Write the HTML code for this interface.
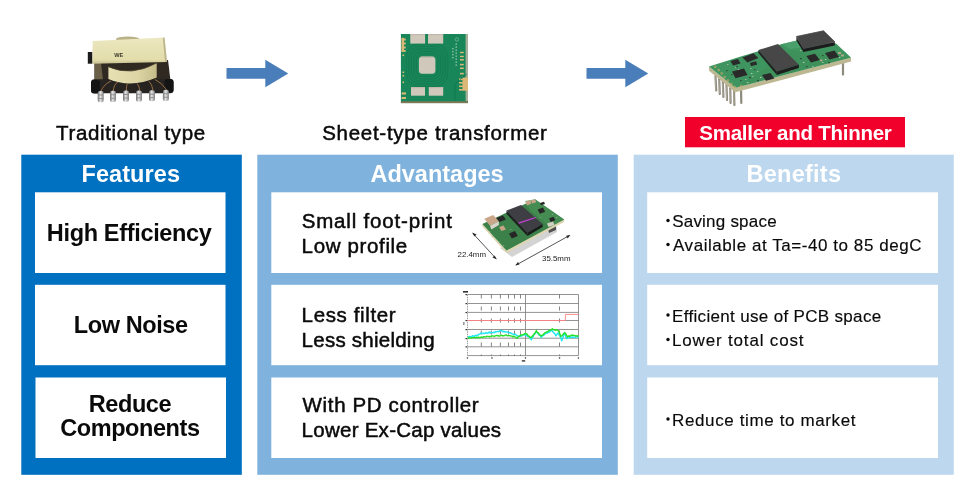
<!DOCTYPE html>
<html><head><meta charset="utf-8">
<style>
html,body{margin:0;padding:0;background:#fff;width:970px;height:489px;overflow:hidden}
svg{display:block;will-change:transform}
text{font-family:"Liberation Sans",sans-serif}
</style></head><body>
<svg width="970" height="489" viewBox="0 0 970 489">
<rect x="0" y="0" width="970" height="489" fill="#fff"/>
<!-- panels -->
<rect x="21.3" y="154.7" width="220.5" height="320.1" fill="#0070c0"/>
<rect x="257.3" y="154.7" width="360.5" height="320.1" fill="#7fb3dd"/>
<rect x="633.7" y="154.7" width="320.1" height="320.1" fill="#bdd7ee"/>
<!-- inner boxes -->
<g fill="#fff">
<rect x="35" y="192.3" width="190.5" height="80.7"/>
<rect x="35" y="284.8" width="190.5" height="80.4"/>
<rect x="35.5" y="377.5" width="190.5" height="80.5"/>
<rect x="271.3" y="192.3" width="330.7" height="80.7"/>
<rect x="271.3" y="284.8" width="330.7" height="80.4"/>
<rect x="271.3" y="377.5" width="330.7" height="80.5"/>
<rect x="647.2" y="192.3" width="290.8" height="80.7"/>
<rect x="647.2" y="284.8" width="290.8" height="80.4"/>
<rect x="647.2" y="377.5" width="290.8" height="80.5"/>
</g>
<!-- red label -->
<rect x="685" y="117" width="220" height="30.3" fill="#f2002c"/>
<!-- arrows -->
<polygon fill="#4a7ebb" points="226.5,68 265.3,68 265.3,59.7 288.3,73.4 265.3,87.2 265.3,78.7 226.5,78.7"/>
<polygon fill="#4a7ebb" points="586.5,68 625.3,68 625.3,59.7 648.3,73.4 625.3,87.2 625.3,78.7 586.5,78.7"/>


<!-- ===== traditional transformer ===== -->
<g id="img1">
<defs>
<linearGradient id="beigeTop" x1="0" y1="0" x2="0" y2="1">
<stop offset="0" stop-color="#ebe7bf"/><stop offset="0.85" stop-color="#e3ddab"/><stop offset="1" stop-color="#c6bf90"/></linearGradient>
<linearGradient id="pin" x1="0" y1="0" x2="1" y2="0">
<stop offset="0" stop-color="#6e6e6e"/><stop offset="0.45" stop-color="#e6e6e6"/><stop offset="1" stop-color="#7e7e7e"/></linearGradient>
<linearGradient id="bob" x1="0" y1="0" x2="1" y2="0">
<stop offset="0" stop-color="#e6e0b4"/><stop offset="0.6" stop-color="#ddd5a4"/><stop offset="1" stop-color="#c5bc8a"/></linearGradient>
</defs>
<ellipse cx="127.7" cy="39.2" rx="11.8" ry="2.6" fill="#b9b187"/>
<polygon points="94.5,62 168,60 170.5,80.5 94.5,81.5" fill="#2f2921"/>
<polygon points="94.5,63 101,63 103,80 94.5,80.5" fill="#6a6048"/>
<polygon points="92.7,40.9 164.5,37.6 167,62 92.2,63.7" fill="url(#beigeTop)"/>
<polygon points="164.5,37.6 167,62 165,62 162.8,37.8" fill="#bdb58c"/>
<rect x="87.8" y="52" width="4.4" height="11.7" fill="#1b1b1b"/>
<rect x="91.2" y="79.3" width="82.3" height="14" rx="3" fill="#262321"/>
<g fill="#141414"><rect x="91" y="80" width="9" height="13.5" rx="3"/><rect x="164.5" y="79" width="9" height="13.5" rx="3"/></g>
<path d="M108.4,66.8 Q131,77 156.7,63 L156.7,77.5 Q131,88.5 108.4,79 Z" fill="url(#bob)"/>
<path d="M108.4,66.8 Q131,77 156.7,63" fill="none" stroke="#4a4030" stroke-width="0.8"/>
<g stroke="#c78b52" stroke-width="0.7" fill="none">
<path d="M100.4,92 Q104,84 111,81"/><path d="M113.2,91 Q114,84 118,82"/><path d="M126.5,91 Q126,85 128,83.5"/>
<path d="M139.8,90.5 Q139,85 137,83.5"/><path d="M153,90 Q152,84 149,81.5"/><path d="M166.4,89.5 Q162,83 155,79.5"/>
</g>
<g fill="url(#pin)"><rect x="97.7" y="91.0" width="6" height="11.2" rx="2.2"/><rect x="110.0" y="90.8" width="6" height="11.2" rx="2.2"/><rect x="123.0" y="90.6" width="6" height="11.2" rx="2.2"/><rect x="136.0" y="90.4" width="6" height="11.2" rx="2.2"/><rect x="149.0" y="90.2" width="6" height="11.1" rx="2.2"/><rect x="162.9" y="89.8" width="6" height="11.2" rx="2.2"/></g>
<g fill="#8a8a8a"><rect x="98.2" y="94.5" width="5" height="0.9"/><rect x="98.2" y="98.0" width="5" height="0.9"/><rect x="110.5" y="94.3" width="5" height="0.9"/><rect x="110.5" y="97.8" width="5" height="0.9"/><rect x="123.5" y="94.1" width="5" height="0.9"/><rect x="123.5" y="97.6" width="5" height="0.9"/><rect x="136.5" y="93.9" width="5" height="0.9"/><rect x="136.5" y="97.4" width="5" height="0.9"/><rect x="149.5" y="93.7" width="5" height="0.9"/><rect x="149.5" y="97.2" width="5" height="0.9"/><rect x="163.4" y="93.3" width="5" height="0.9"/><rect x="163.4" y="96.8" width="5" height="0.9"/></g>
<text x="114.2" y="57" font-size="5.8" font-weight="bold" textLength="9" lengthAdjust="spacingAndGlyphs" fill="#3a3828">WE</text>
</g>

<!-- ===== sheet transformer ===== -->
<g id="img2">
<rect x="400.9" y="34" width="67.1" height="69.1" fill="#188659"/>
<rect x="465.6" y="34" width="2.4" height="67" fill="#bdb6a6" opacity="0.85"/>
<rect x="400.9" y="101.3" width="67.1" height="1.8" fill="#857657"/>
<g fill="none" stroke="#10704a" stroke-width="0.55" opacity="0.9">
<rect x="416.4" y="53.9" width="21.5" height="22.4" rx="5"/>
<rect x="413.9" y="51.4" width="26.5" height="27.4" rx="7"/>
<rect x="411.4" y="48.9" width="31.5" height="32.4" rx="9"/>
<rect x="408.9" y="46.4" width="36.5" height="37.4" rx="11"/>
<rect x="406.4" y="43.9" width="41.5" height="42.4" rx="13"/>
</g>
<g fill="#d0c8ba">
<rect x="410.3" y="34" width="14.8" height="9.6"/><rect x="428" y="34" width="15.2" height="9.6"/>
<rect x="411" y="87" width="14" height="8.7"/><rect x="428.8" y="87" width="14.4" height="8.7"/>
<rect x="418.9" y="56.4" width="16.5" height="17.4" rx="3.5"/>
</g>
<g fill="#b9ada0" opacity="0.6">
<rect x="410.3" y="34" width="14.8" height="1.2"/><rect x="428" y="34" width="15.2" height="1.2"/>
<rect x="411" y="87" width="14" height="1.2"/><rect x="428.8" y="87" width="14.4" height="1.2"/>
<rect x="420.5" y="56.4" width="13" height="1.5"/>
</g>
<g fill="#dcb878">
<rect x="401.6" y="37.8" width="2.4" height="14.1"/>
<rect x="401.6" y="38.5" width="4.1" height="2"/><rect x="401.6" y="42.5" width="4.1" height="2"/><rect x="401.6" y="46.5" width="4.1" height="2"/><rect x="401.6" y="50" width="4.1" height="1.9"/>
<rect x="402.5" y="54.5" width="1.6" height="1.6"/><rect x="402.5" y="71.5" width="1.6" height="1.6"/><rect x="402.5" y="75" width="1.6" height="1.6"/><rect x="402.5" y="81.5" width="1.6" height="1.6"/>
<rect x="401.6" y="92.4" width="4.4" height="2.1"/><rect x="401.6" y="97" width="4.4" height="2"/>
<rect x="460" y="51.8" width="3.8" height="1.4"/><rect x="460" y="55.8" width="3.8" height="1.4"/><rect x="460" y="59" width="3.8" height="1.6"/><rect x="460" y="63.8" width="3.8" height="1.6"/><rect x="460" y="67.5" width="3.8" height="1.6"/><rect x="460" y="72.8" width="3.8" height="1.6"/>
<rect x="462.5" y="77.5" width="5.5" height="13.2"/>
<rect x="459" y="78.5" width="4" height="1.6"/><rect x="459" y="82" width="4" height="1.6"/><rect x="459" y="85.5" width="4" height="1.6"/><rect x="459" y="89" width="4" height="1.6"/>
</g>
<path d="M467,74 L455,84 L455,101" fill="none" stroke="#10704a" stroke-width="0.6"/>
<g fill="#b8d8c8" opacity="0.8">
<circle cx="457" cy="39.5" r="1.7" fill="none" stroke="#c8e0d4" stroke-width="0.5"/>
<rect x="455.5" y="43.5" width="1.4" height="1.3"/><rect x="455.5" y="46.5" width="1.4" height="1.3"/><rect x="455.5" y="49.5" width="1.4" height="1.3"/><rect x="455.5" y="52.5" width="1.4" height="1.3"/><rect x="455.5" y="55.5" width="1.4" height="1.3"/><rect x="455.5" y="58.5" width="1.4" height="1.3"/><rect x="455.5" y="61.5" width="1.4" height="1.3"/><rect x="455.5" y="64.5" width="1.4" height="1.3"/>
<rect x="452.2" y="48" width="1.4" height="1.3"/><rect x="452.2" y="51" width="1.4" height="1.3"/><rect x="452.2" y="54" width="1.4" height="1.3"/><rect x="452.2" y="57" width="1.4" height="1.3"/>
</g>
</g>

<!-- ===== module (top right) ===== -->
<g id="img3">
<g stroke="#8e8b7e" stroke-width="2.2" stroke-linecap="round">
<line x1="715.5" y1="76" x2="716.2" y2="90.5"/><line x1="719.2" y1="79" x2="719.8" y2="94"/><line x1="722.8" y1="82" x2="723.4" y2="97"/>
<line x1="726.5" y1="85" x2="727" y2="100"/><line x1="730.2" y1="88" x2="730.6" y2="103"/><line x1="734" y1="90" x2="734.4" y2="105"/>
<line x1="741" y1="88" x2="741.3" y2="103"/>
<line x1="843" y1="62" x2="843" y2="74.6"/>
</g>
<g stroke="#b9b6a8" stroke-width="0.7">
<line x1="715.2" y1="77" x2="715.8" y2="90"/><line x1="718.9" y1="80" x2="719.4" y2="93.5"/><line x1="722.5" y1="83" x2="723" y2="96.5"/>
<line x1="726.2" y1="86" x2="726.6" y2="99.5"/><line x1="729.9" y1="89" x2="730.2" y2="102.5"/><line x1="733.7" y1="91" x2="734" y2="104.5"/>
</g>
<polygon points="709,66.4 735.2,87.7 851,57.4 851,61.5 735.2,92.3 709,70.8" fill="#bdb892"/>
<polygon points="709,66.4 740,56.8 782,44 797,40.5 836,43.5 851,57.4 735.2,87.7" fill="#3f955f"/>
<polygon points="790,50 851,57.4 735.2,87.7 760,72" fill="#3d9058" opacity="0.6"/>
<g fill="none" stroke="#c9a868" stroke-width="0.8"><circle cx="715.3" cy="66.8" r="0.9"/><circle cx="718.7" cy="70.1" r="0.9"/><circle cx="721.7" cy="73.4" r="0.9"/><circle cx="724.6" cy="77.1" r="0.9"/><circle cx="728.0" cy="80.5" r="0.9"/><circle cx="731.4" cy="83.9" r="0.9"/><circle cx="734.6" cy="87.0" r="0.9"/><circle cx="741.3" cy="85.9" r="0.9"/></g>
<g fill="#a9b7a0" opacity="0.9">
<rect x="727" y="64" width="1.5" height="1"/><rect x="735" y="67" width="1.5" height="1"/><rect x="740" y="72" width="1.5" height="1"/><rect x="750" y="68" width="1.5" height="1"/>
<rect x="752" y="76" width="1.5" height="1"/><rect x="757" y="71" width="1.5" height="1"/><rect x="745" y="79" width="1.5" height="1"/><rect x="760" y="81" width="1.5" height="1"/>
<rect x="790" y="70" width="1.5" height="1"/><rect x="800" y="50" width="1.5" height="1"/><rect x="822" y="62" width="1.5" height="1"/><rect x="812" y="66" width="1.5" height="1"/>
</g>
<g fill="#2b3a30" opacity="0.75">
<rect x="736" y="66" width="2" height="1.3"/><rect x="744" y="72" width="1.6" height="1.2"/><rect x="749" y="77" width="2" height="1.3"/><rect x="754" y="69" width="1.6" height="1.2"/>
<rect x="740" y="80" width="1.6" height="1.2"/><rect x="757" y="80" width="2" height="1.3"/><rect x="726" y="70" width="1.6" height="1.2"/><rect x="731" y="74" width="1.6" height="1.2"/>
<rect x="800" y="58" width="2" height="1.3"/><rect x="806" y="66" width="1.6" height="1.2"/><rect x="822" y="55" width="1.6" height="1.2"/><rect x="828" y="62" width="2" height="1.3"/>
</g>
<g fill="#d8d8cc" opacity="0.8">
<rect x="738" y="69" width="1.4" height="1"/><rect x="751" y="73" width="1.4" height="1"/><rect x="760" y="77" width="1.4" height="1"/><rect x="747" y="82" width="1.4" height="1"/>
<rect x="803" y="62" width="1.4" height="1"/><rect x="825" y="59" width="1.4" height="1"/><rect x="839" y="57" width="1.4" height="1"/>
</g>
<polygon points="782,44 797,40.5 836,43.5 830,45 790,49" fill="#52a672" opacity="0.6"/>
<!-- inductor -->
<polygon points="758.4,50.1 778,44 798.9,64.8 776.8,71.6" fill="#474747"/>
<polygon points="758.4,50.1 776.8,71.6 776.8,75 758.4,53" fill="#222"/>
<polygon points="776.8,71.6 798.9,64.8 798.9,68 776.8,75" fill="#1e1e1e"/>
<!-- big block -->
<polygon points="796.4,40.5 803.5,52 834.8,45.5 834.8,42 803.5,48.5 796.4,37" fill="#1c1c1c"/>
<polygon points="796.4,36.5 823.5,30.8 834.8,41.8 803.5,48.5" fill="#474747" stroke="#474747" stroke-width="0.8" stroke-linejoin="round"/>
<!-- small ICs -->
<g fill="#2a2a2a">
<polygon points="742.5,57.4 753.5,53.2 758.4,58.1 747.4,62.4"/>
<polygon points="749.8,63 756,61.3 757.2,64.5 751,66.2"/>
<polygon points="730.4,61 738,59 740.5,63.5 733,65.5"/>
<polygon points="732,71.5 744,68.5 747.5,75 735.5,78.2"/>
<polygon points="762,75 770.5,73 774.4,78.5 766,80.8"/>
<polygon points="806.3,56 815,53.8 819.8,60 811,62.4"/>
<polygon points="825,53 834.5,50.5 839,57 829.5,59.5"/>
</g>
<g fill="#b3a58a"><rect x="838" y="52" width="3" height="2"/><rect x="841" y="54.5" width="3" height="2"/><rect x="820" y="59.5" width="2.5" height="1.8"/></g>
</g>

<!-- ===== P2 module ===== -->
<g id="img4">
<polygon points="500,248 556,221 557,232 512,257" fill="#c8c8c8" opacity="0.8"/>
<polygon points="548,229 556,226 556,230 549,233" fill="#505050"/>
<polygon points="482.4,223.9 506.5,250.5 564.2,219.4 564.2,222 506.5,253 482.4,226.4" fill="#ddd6b0"/>
<polygon points="482.4,223.9 535,199.2 564.2,219.4 506.5,250.5" fill="#3b8149"/>
<polygon points="525,201 535,199.2 564.2,219.4 550,227 530,210" fill="#4a9258" opacity="0.7"/>
<g fill="#8fae8a" opacity="0.8">
<rect x="492" y="236" width="1.2" height="1"/><rect x="498" y="241" width="1.2" height="1"/><rect x="503" y="245" width="1.2" height="1"/><rect x="489" y="231" width="1.2" height="1"/>
<rect x="510" y="229" width="1.2" height="1"/><rect x="540" y="217" width="1.2" height="1"/><rect x="552" y="214" width="1.2" height="1"/><rect x="556" y="217" width="1.2" height="1"/>
</g>
<!-- inductor -->
<polygon points="506.5,210.6 521,204.9 542.6,223.9 527.4,232.8" fill="#3e3e44"/>
<polygon points="506.5,210.6 527.4,232.8 527.4,236 506.5,213.8" fill="#202020"/>
<polygon points="527.4,232.8 542.6,223.9 542.6,227 527.4,236" fill="#1a1a1a"/>
<line x1="518.6" y1="223.2" x2="535.7" y2="217.5" stroke="#c840dc" stroke-width="1.3"/>
<!-- left cap -->
<polygon points="484.3,218.8 493.2,215 498.9,221.3 490,225.8" fill="#c9a68a"/>
<polygon points="490,225.8 498.9,221.3 498.9,225 491.3,229.5" fill="#d8d4cc"/>
<g fill="#262626">
<polygon points="496.4,218 503,215.5 506,219.5 499.4,222"/>
<polygon points="509,233.5 515,231 517.8,236 511.8,238.5"/>
<polygon points="537.6,209.5 543,207.5 545.2,211.8 539.8,213.8"/>
<polygon points="549,218.5 553.5,216.8 555.3,220.3 550.8,222"/>
<polygon points="540,203 544,201.8 545,204 541,205.2"/>
</g>
<g fill="#c7a487">
<polygon points="499,227 503.5,225.5 505.9,229.5 501.4,231"/>
<polygon points="525.5,202 530,200 531.5,203.5 527,205.5"/>
<polygon points="531,200.5 535,199.2 536.3,202.3 532.3,203.6"/>
</g>
<polygon points="547,223.5 553,221.5 554.5,225 548.5,227" fill="#d4cfc2"/>
<g stroke="#2a2a2a" stroke-width="0.8" fill="#2a2a2a">
<line x1="473" y1="233.5" x2="496" y2="258.5"/>
<polygon points="472.2,232.6 476.6,234.4 474.4,236.4" stroke="none"/>
<polygon points="496.8,259.4 492.5,257.5 494.6,255.5" stroke="none"/>
<line x1="516.2" y1="265" x2="569.4" y2="235.5"/>
<polygon points="515.2,265.5 518,262 519.5,264.6" stroke="none"/>
<polygon points="570.4,234.9 567.6,238.4 566.1,235.8" stroke="none"/>
</g>
<text x="457.5" y="256.5" font-size="7.6" textLength="28.5" lengthAdjust="spacingAndGlyphs" fill="#222">22.4mm</text>
<text x="542" y="261" font-size="7.6" textLength="28.5" lengthAdjust="spacingAndGlyphs" fill="#222">35.5mm</text>
</g>

<!-- ===== chart ===== -->
<g id="img5">
<g stroke="#777" stroke-width="0.8" fill="none">
<line x1="467.5" y1="294.5" x2="578.5" y2="294.5"/><line x1="467.5" y1="303.5" x2="578.5" y2="303.5"/><line x1="467.5" y1="312.4" x2="578.5" y2="312.4"/><line x1="467.5" y1="320.5" x2="578.5" y2="320.5"/><line x1="467.5" y1="329.5" x2="578.5" y2="329.5"/><line x1="467.5" y1="338.2" x2="578.5" y2="338.2"/><line x1="467.5" y1="346.8" x2="578.5" y2="346.8"/><line x1="467.5" y1="355.6" x2="578.5" y2="355.6"/>
<line x1="525.5" y1="294.5" x2="525.5" y2="355.6"/><line x1="578.5" y1="294.5" x2="578.5" y2="355.6"/>
<line x1="467.5" y1="294.5" x2="467.5" y2="355.6" stroke="#888" stroke-dasharray="1.5 0.8"/>
</g>
<g stroke="#666" stroke-width="0.8" stroke-dasharray="4 8">
<line x1="481.3" y1="294.5" x2="481.3" y2="356"/><line x1="491.4" y1="294.5" x2="491.4" y2="356"/><line x1="500.4" y1="294.5" x2="500.4" y2="356"/><line x1="508.5" y1="294.5" x2="508.5" y2="356"/><line x1="514.5" y1="294.5" x2="514.5" y2="356"/><line x1="520.5" y1="294.5" x2="520.5" y2="356"/><line x1="559.5" y1="294.5" x2="559.5" y2="356"/>
</g>
<polyline points="467.5,320.5 565.4,320.5 565.4,314.4 578.5,314.4" fill="none" stroke="#ff8080" stroke-width="0.9"/>
<polyline fill="none" stroke="#20e8f0" stroke-width="1.5" stroke-linejoin="round" points="467.8,336.6 468.7,336.9 469.6,336.6 470.5,336.8 471.3,336.7 472.2,336.0 473.1,335.8 474.0,336.7 474.9,335.7 475.7,335.3 476.6,335.9 477.4,334.9 478.3,335.0 479.1,334.2 480.0,334.1 480.8,333.1 481.7,333.4 482.6,333.6 483.5,333.2 484.4,333.4 485.2,333.3 486.1,332.5 487.0,333.3 487.9,333.0 488.7,332.5 489.6,332.1 490.4,333.0 491.3,332.4 492.1,332.6 493.0,332.7 493.9,332.3 494.8,332.4 495.6,331.6 496.5,331.9 497.4,331.4 498.3,331.8 499.1,331.6 500.0,330.5 500.9,330.4 501.8,330.7 502.6,331.8 503.4,331.3 504.3,331.8 505.1,331.6 506.0,332.0 506.9,332.0 507.9,332.1 508.8,332.6 509.8,332.7 510.7,333.3 511.5,333.3 512.3,333.9 513.1,334.2 514.0,334.6 514.8,334.6 515.6,334.3 516.4,335.4 517.2,335.9 518.1,336.1 519.1,335.9 520.0,336.4 520.8,335.5 521.6,336.0 522.4,335.5 523.3,334.9 524.1,334.4 524.9,335.1 525.7,335.0 526.5,334.6 527.3,336.2 528.1,336.4 529.0,336.8 529.8,337.7 530.6,338.9 531.4,339.7 532.2,337.4 533.1,336.7 533.9,334.7 534.7,334.2 535.6,332.3 536.4,331.7 537.2,332.8 538.0,333.2 538.8,334.8 539.7,335.0 540.5,335.8 541.3,337.4 542.1,336.1 542.9,335.6 543.8,335.1 544.6,334.7 545.4,333.5 546.2,332.7 547.0,333.2 547.8,332.1 548.6,332.5 549.5,332.0 550.3,331.0 551.1,330.7 551.9,330.3 552.7,331.5 553.5,332.4 554.4,333.4 555.2,334.4 556.0,335.8 557.2,334.1 558.4,332.7 559.2,334.9 560.0,336.2 560.9,338.1 561.7,340.8 562.7,337.9 563.6,335.6 564.6,332.6 565.6,335.7 566.6,338.6 567.4,337.7 568.2,338.2 569.1,337.9 569.9,337.0 570.7,337.5 571.6,337.2 572.4,337.4 573.3,337.0 574.2,337.4 575.0,337.4 575.9,336.5 576.8,336.5 577.6,337.2 578.5,336.9"/>
<polyline fill="none" stroke="#28e028" stroke-width="1.4" stroke-linejoin="round" points="467.8,338.7 468.7,337.8 469.6,338.0 470.5,338.1 471.3,337.7 472.2,337.7 473.1,337.6 474.0,337.6 474.9,337.9 475.7,337.4 476.6,337.5 477.4,337.9 478.3,337.0 479.1,337.5 480.0,337.7 480.8,337.1 481.7,337.0 482.5,337.6 483.4,336.8 484.2,336.6 485.1,336.9 485.9,337.1 486.8,336.3 487.6,336.4 488.5,336.4 489.3,336.9 490.2,336.3 491.0,336.7 491.9,335.8 492.7,335.9 493.5,336.2 494.3,336.5 495.2,335.9 496.0,335.6 496.8,335.4 497.6,335.8 498.4,335.4 499.2,336.1 500.1,336.1 500.9,335.2 501.7,335.3 502.5,335.9 503.3,335.6 504.2,335.8 505.0,335.2 505.8,334.9 506.7,335.2 507.6,335.9 508.5,335.4 509.3,335.6 510.2,335.8 511.1,336.0 512.0,336.1 512.9,337.0 513.7,336.3 514.6,336.4 515.5,337.7 516.3,337.9 517.2,338.3 518.1,336.8 519.1,336.6 520.0,335.8 520.8,334.7 521.6,335.1 522.4,335.0 523.3,334.5 524.1,334.1 524.9,333.6 525.7,333.4 526.5,334.0 527.3,334.4 528.2,335.8 529.0,336.1 529.8,337.4 530.6,337.2 531.4,337.3 532.3,336.1 533.1,335.4 533.9,334.5 534.7,333.5 535.6,332.2 536.4,330.6 537.3,332.5 538.2,332.8 539.1,333.9 540.0,335.3 540.9,336.1 541.8,335.3 542.7,335.3 543.5,334.2 544.4,333.2 545.3,332.4 546.2,332.4 547.1,331.6 547.9,331.5 548.8,330.6 549.7,330.0 550.6,330.0 551.4,329.9 552.3,328.7 553.2,329.6 554.0,329.9 554.9,330.0 555.8,330.2 556.7,329.4 557.5,330.3 558.4,330.7 559.2,332.0 560.1,334.4 560.9,336.6 561.8,335.8 562.8,334.6 563.7,333.5 564.6,332.7 565.5,333.4 566.5,335.1 567.4,336.9 568.2,336.3 569.0,335.8 569.9,336.4 570.7,335.7 571.6,334.9 572.4,335.5 573.3,335.3 574.2,335.4 575.0,335.6 575.9,336.0 576.8,336.0 577.6,335.8 578.5,336.1"/>
<g fill="#333">
<rect x="463" y="291" width="5" height="1.6"/>
<rect x="465.5" y="294" width="1.5" height="1.2"/><rect x="465.5" y="303" width="1.5" height="1.2"/><rect x="465.5" y="312" width="1.5" height="1.2"/><rect x="465.5" y="320" width="1.5" height="1.2"/><rect x="465.5" y="329" width="1.5" height="1.2"/><rect x="465.5" y="338" width="1.5" height="1.2"/><rect x="465.5" y="346.3" width="1.5" height="1.2"/>
<rect x="463.5" y="322" width="0.8" height="3"/>
<rect x="466.8" y="357.3" width="1.3" height="1.3"/><rect x="491.3" y="357.3" width="1.3" height="1.3"/><rect x="524.8" y="357.3" width="1.3" height="1.3"/><rect x="558.9" y="357.3" width="1.3" height="1.3"/><rect x="577.8" y="357.3" width="1.3" height="1.3"/>
<rect x="521.8" y="360.2" width="3.4" height="1.4"/>
</g>
</g>

<!-- titles -->
<text id="t1" x="56.0" y="139.5" font-size="20.5" textLength="149.2" lengthAdjust="spacing" fill="#0a0a0a" stroke="#0a0a0a" stroke-width="0.5">Traditional type</text>
<text id="t2" x="322.2" y="139.5" font-size="20.5" textLength="224.7" lengthAdjust="spacing" fill="#0a0a0a" stroke="#0a0a0a" stroke-width="0.5">Sheet-type transformer</text>
<text id="t3" x="699.3" y="139.5" font-size="20.5" font-weight="bold" textLength="192.5" lengthAdjust="spacing" fill="#fff">Smaller and Thinner</text>
<!-- headers -->
<text id="h1" x="81.5" y="181.5" font-size="23.5" font-weight="bold" textLength="98.5" lengthAdjust="spacing" fill="#fff">Features</text>
<text id="h2" x="370.4" y="181.5" font-size="23.5" font-weight="bold" textLength="133.3" lengthAdjust="spacing" fill="#fff">Advantages</text>
<text id="h3" x="746.5" y="181.5" font-size="23.5" font-weight="bold" textLength="94.5" lengthAdjust="spacing" fill="#fff">Benefits</text>
<!-- P1 -->
<text id="p1a" x="46.8" y="241" font-size="23.5" font-weight="bold" textLength="165.1" lengthAdjust="spacing" fill="#0a0a0a">High Efficiency</text>
<text id="p1b" x="73.8" y="332.5" font-size="23.5" font-weight="bold" textLength="114.2" lengthAdjust="spacing" fill="#0a0a0a">Low Noise</text>
<text id="p1c" x="88.8" y="412" font-size="23.5" font-weight="bold" textLength="82.8" lengthAdjust="spacing" fill="#0a0a0a">Reduce</text>
<text id="p1d" x="60.2" y="436" font-size="23.5" font-weight="bold" textLength="139.8" lengthAdjust="spacing" fill="#0a0a0a">Components</text>
<!-- P2 -->
<text id="p2a" x="301.7" y="228" font-size="20.5" textLength="150.2" lengthAdjust="spacing" fill="#0a0a0a" stroke="#0a0a0a" stroke-width="0.5">Small foot-print</text>
<text id="p2b" x="301.6" y="253" font-size="20.5" textLength="105.6" lengthAdjust="spacing" fill="#0a0a0a" stroke="#0a0a0a" stroke-width="0.5">Low profile</text>
<text id="p2c" x="301.6" y="322" font-size="20.5" textLength="94.1" lengthAdjust="spacing" fill="#0a0a0a" stroke="#0a0a0a" stroke-width="0.5">Less filter</text>
<text id="p2d" x="301.6" y="347" font-size="20.5" textLength="133.1" lengthAdjust="spacing" fill="#0a0a0a" stroke="#0a0a0a" stroke-width="0.5">Less shielding</text>
<text id="p2e" x="302.6" y="412" font-size="20.5" textLength="176.1" lengthAdjust="spacing" fill="#0a0a0a" stroke="#0a0a0a" stroke-width="0.5">With PD controller</text>
<text id="p2f" x="301.6" y="437" font-size="20.5" textLength="199.5" lengthAdjust="spacing" fill="#0a0a0a" stroke="#0a0a0a" stroke-width="0.5">Lower Ex-Cap values</text>
<!-- P3 -->
<g fill="#0a0a0a">
<circle cx="668" cy="220.5" r="1.7"/><circle cx="668" cy="244.5" r="1.7"/>
<circle cx="668" cy="315" r="1.7"/><circle cx="668" cy="339.5" r="1.7"/>
<circle cx="668" cy="419" r="1.7"/>
</g>
<text id="p3a" x="672.2" y="227" font-size="17" textLength="104.4" lengthAdjust="spacing" fill="#0a0a0a" stroke="#0a0a0a" stroke-width="0.15">Saving space</text>
<text id="p3b" x="673.0" y="251" font-size="17" textLength="248.5" lengthAdjust="spacing" fill="#0a0a0a" stroke="#0a0a0a" stroke-width="0.15">Available at Ta=-40 to 85 degC</text>
<text id="p3c" x="672.0" y="321.5" font-size="17" textLength="209.2" lengthAdjust="spacing" fill="#0a0a0a" stroke="#0a0a0a" stroke-width="0.15">Efficient use of PCB space</text>
<text id="p3d" x="672.0" y="346" font-size="17" textLength="131.5" lengthAdjust="spacing" fill="#0a0a0a" stroke="#0a0a0a" stroke-width="0.15">Lower total cost</text>
<text id="p3e" x="672.0" y="425.5" font-size="17" textLength="183.5" lengthAdjust="spacing" fill="#0a0a0a" stroke="#0a0a0a" stroke-width="0.15">Reduce time to market</text>
</svg>
</body></html>
